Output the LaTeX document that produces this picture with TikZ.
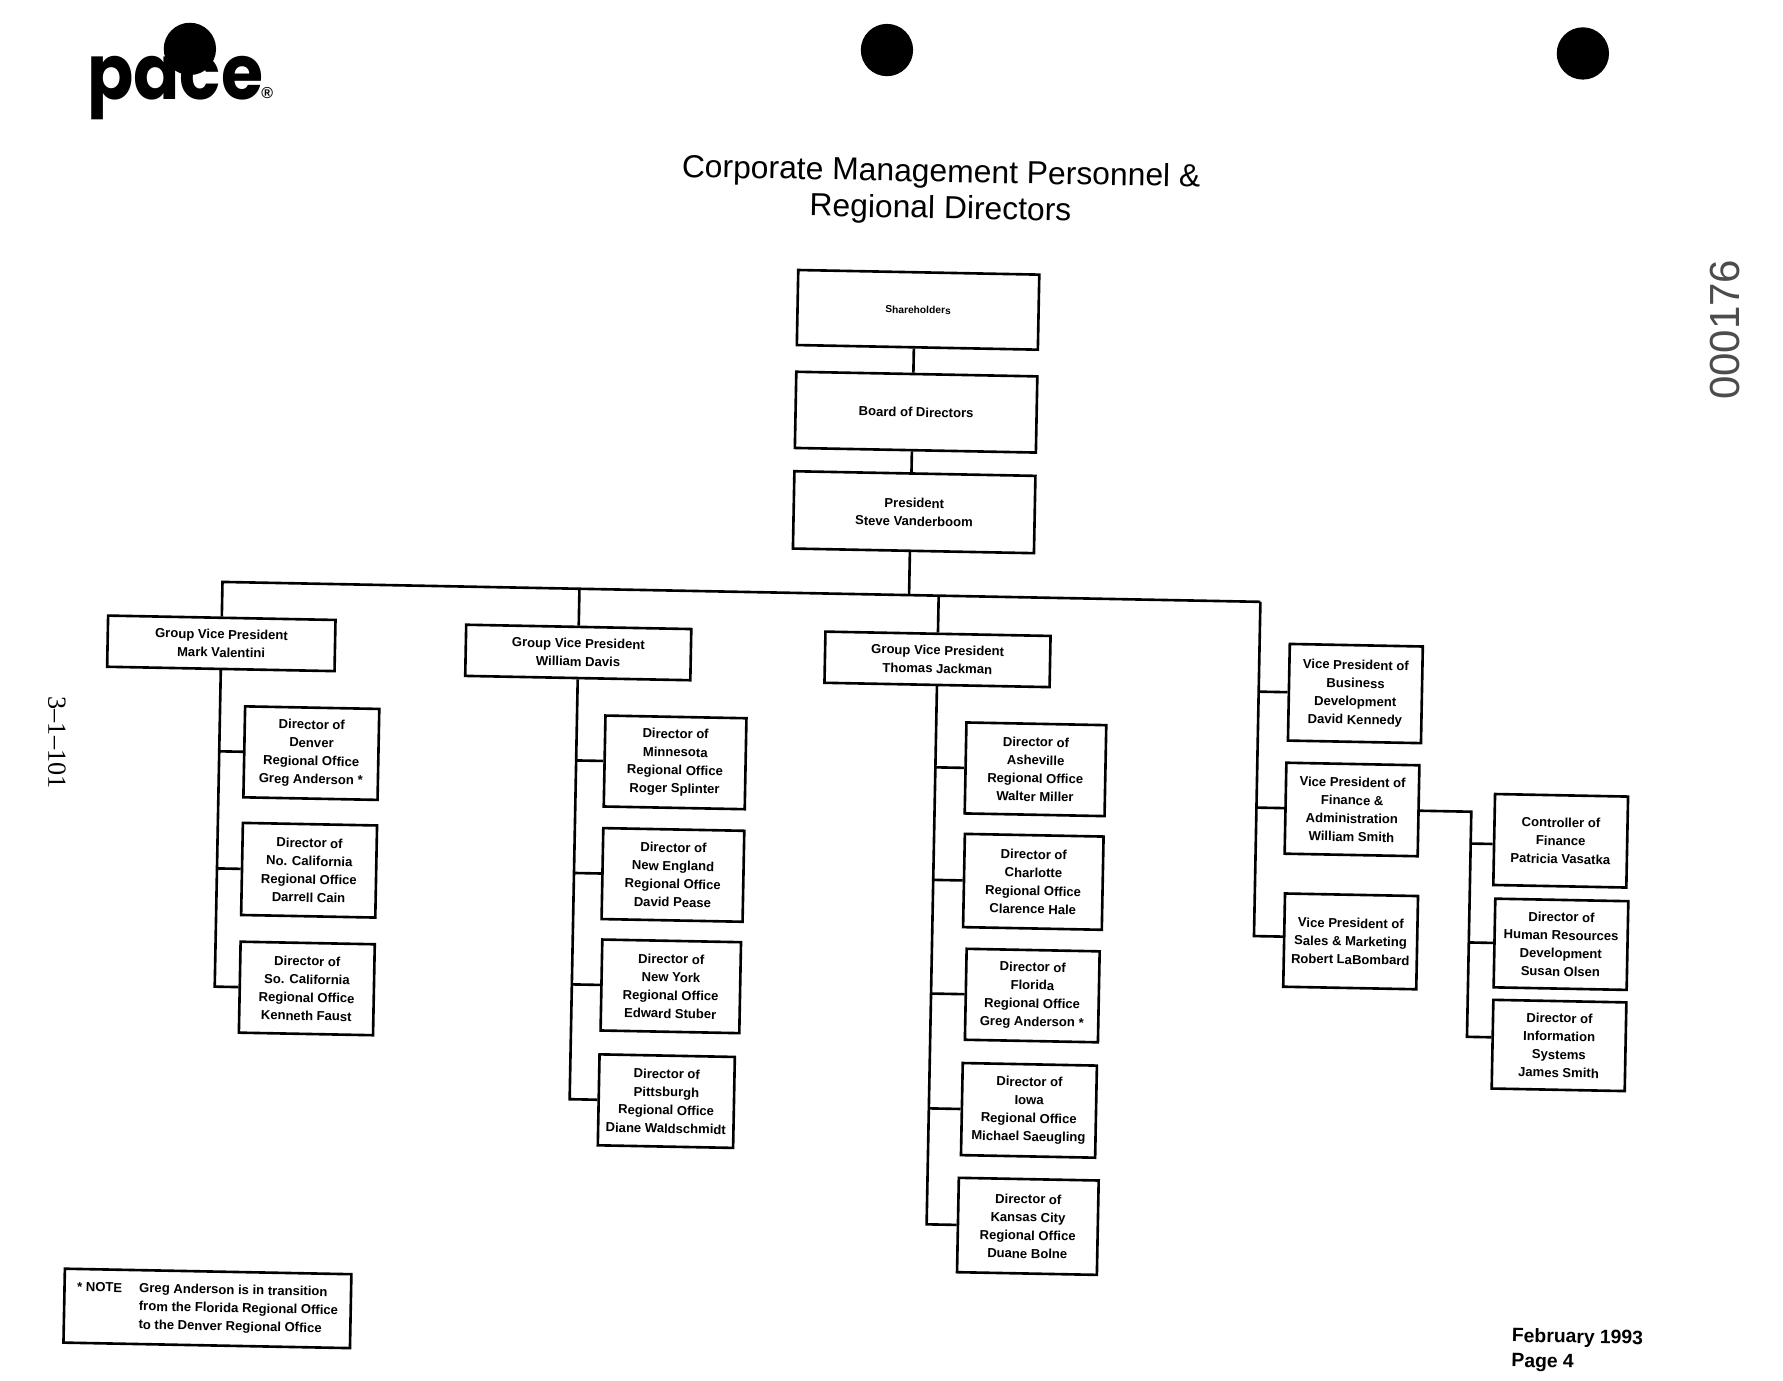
\documentclass[tikz,border=0pt]{standalone}
\usepackage{fontspec}
\setmainfont{Liberation Sans}
\newfontfamily\typedfont{Liberation Serif}
\newfontfamily\logofont{Poppins}
\tikzset{
  post/.style 2 args={draw, line width=2.3pt, align=center, inner sep=0pt,
    minimum width=#1pt, minimum height=#2pt,
    font=\fontsize{11.5}{16}\selectfont\bfseries},
  link/.style={line width=2.3pt},
  hole/.style={fill=black},
}

\begin{document}
\begin{tikzpicture}[x=1pt, y=-1pt]
        \useasboundingbox (0, 0) rectangle (1568, 1213.6);

        \node[font=\logofont\bfseries\fontsize{60}{60}\selectfont, yscale=1.12, inner sep=0pt] (logo) at (154, 77) {pace};
        \node[font=\fontsize{14}{14}\selectfont\bfseries, inner sep=0pt] (mark) at (235, 82) {®};

        \fill[hole] (167, 43) circle (23);
        \fill[hole] (780, 44) circle (23);
        \fill[hole] (1392, 47) circle (23);

        \node[font=\typedfont\fontsize{23}{23}\selectfont, rotate=-90] (sheet) at (50, 653) {3–1–101};
        \node[font=\fontsize{37}{37}\selectfont, text=black!70, rotate=90] (stamp) at (1517, 290) {000176};

        \begin{scope}[rotate around={-1.1:(780, 603.5)}, transform shape]
          \node[align=center, font=\fontsize{28}{32}\selectfont] (title) at (819, 168)
            {Corporate Management Personnel \&\\Regional Directors};

          \node[post={212}{66}, font=\fontsize{9}{12}\selectfont\bfseries] (share) at (801, 272) {Shareholders};
          \node[post={212}{67}] (board) at (801, 362) {Board of Directors};
          \node[post={212}{68}] (president) at (801, 450) {President\\Steve Vanderboom};

          \node[post={200}{45}] (gvpa) at (194, 577) {Group Vice President\\Mark Valentini};
          \node[post={198}{45}] (gvpb) at (508, 579) {Group Vice President\\William Davis};
          \node[post={198}{45}] (gvpc) at (824, 579) {Group Vice President\\Thomas Jackman};

          \node[post={118}{80}] (denver) at (275, 672) {Director of\\Denver\\Regional Office\\Greg Anderson *};
          \node[post={118}{81}] (nocal) at (275, 775) {Director of\\No. California\\Regional Office\\Darrell Cain};
          \node[post={118}{80}] (socal) at (275, 879) {Director of\\So. California\\Regional Office\\Kenneth Faust};

          \node[post={124}{80}] (minn) at (595, 674) {Director of\\Minnesota\\Regional Office\\Roger Splinter};
          \node[post={124}{80}] (newengland) at (595, 773) {Director of\\New England\\Regional Office\\David Pease};
          \node[post={122}{80}] (newyork) at (595, 871) {Director of\\New York\\Regional Office\\Edward Stuber};
          \node[post={119}{80}] (pitt) at (593, 972) {Director of\\Pittsburgh\\Regional Office\\Diane Waldschmidt};

          \node[post={123}{80}] (asheville) at (912, 674) {Director of\\Asheville\\Regional Office\\Walter Miller};
          \node[post={122}{82}] (charlotte) at (912, 773) {Director of\\Charlotte\\Regional Office\\Clarence Hale};
          \node[post={117}{80}] (florida) at (913, 873) {Director of\\Florida\\Regional Office\\Greg Anderson *};
          \node[post={118}{81}] (iowa) at (912, 974) {Director of\\Iowa\\Regional Office\\Michael Saeugling};
          \node[post={123}{83}] (kansas) at (913, 1076) {Director of\\Kansas City\\Regional Office\\Duane Bolne};

          \node[post={117}{85}] (busdev) at (1192, 602) {Vice President of\\Business\\Development\\David Kennedy};
          \node[post={117}{80}] (finance) at (1191, 704) {Vice President of\\Finance \&\\Administration\\William Smith};
          \node[post={117}{82}] (sales) at (1192, 820) {Vice President of\\Sales \& Marketing\\Robert LaBombard};

          \node[post={117}{80}] (controller) at (1375, 728) {Controller of\\Finance\\Patricia Vasatka};
          \node[post={117}{78}] (human) at (1377, 819) {Director of\\Human Resources\\Development\\Susan Olsen};
          \node[post={117}{78}] (systems) at (1377, 908) {Director of\\Information\\Systems\\James Smith};

          \node[post={252}{65}] (note) at (193, 1162)
            {\begin{tabular}{@{}l@{\hspace{15pt}}l@{}}
              * NOTE & Greg Anderson is in transition\\
              & from the Florida Regional Office\\
              & to the Denver Regional Office
            \end{tabular}};

          \node[anchor=west, align=left, font=\fontsize{17}{22}\selectfont\bfseries] (date) at (1337, 1176) {February 1993\\Page 4};

          \coordinate (barl) at (194, 523);
          \coordinate (barr) at (1107, 523);
          \coordinate (spine) at ([xshift=-3pt]president.south);
          \coordinate (fork) at (1296, 704);

          \draw[link] ([xshift=-3pt]share.south) -- ([xshift=-3pt]board.north);
          \draw[link] ([xshift=-3pt]board.south) -- ([xshift=-3pt]president.north);
          \draw[link] (spine) -- (spine |- barl);

          \draw[link] (gvpa.north) |- (barr);
          \draw[link] (gvpb.north) -- (gvpb.north |- barl);
          \draw[link] (gvpc.north) -- (gvpc.north |- barl);

          \draw[link] (gvpa.south) |- (socal.west);
          \draw[link] (gvpb.south) |- (pitt.west);
          \draw[link] (gvpc.south) |- (kansas.west);
          \draw[link] (barr) |- ([yshift=3pt]sales.west);
          \draw[link] (finance.east) -- (fork) |- ([yshift=6pt]systems.west);

          \foreach \n in {denver, nocal} \draw[link] (\n.west -| gvpa.south) -- (\n.west);
          \foreach \n in {minn, newengland, newyork} \draw[link] (\n.west -| gvpb.south) -- (\n.west);
          \foreach \n in {asheville, charlotte, florida, iowa} \draw[link] (\n.west -| gvpc.south) -- (\n.west);
          \foreach \n in {busdev, finance} \draw[link] (\n.west -| barr) -- (\n.west);
          \draw[link] ([yshift=-4pt]controller.west -| fork) -- ([yshift=-4pt]controller.west);
          \draw[link] (human.west -| fork) -- (human.west);
        \end{scope}
      \end{tikzpicture}
\end{document}
